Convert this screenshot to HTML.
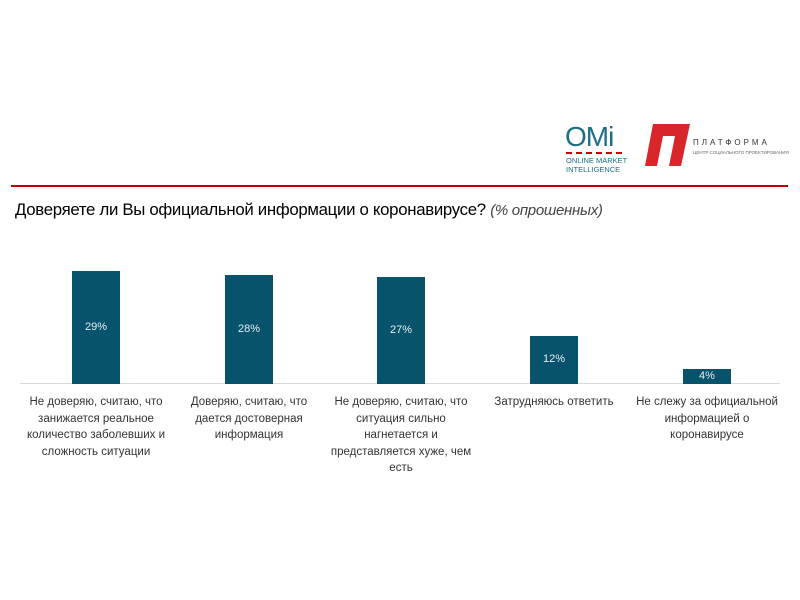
<!DOCTYPE html><html><head><meta charset="utf-8"><style>
body{margin:0;width:800px;height:600px;background:#fff;position:relative;font-family:"Liberation Sans","DejaVu Sans",sans-serif;overflow:hidden}
.a{position:absolute}
.bar{position:absolute;background:#06536b;width:48px;bottom:216px}
.bar span{position:absolute;left:0;right:0;text-align:center;color:#e8eef2;font-size:11px}
.lbl{position:absolute;top:394px;width:150px;text-align:center;font-size:11.5px;line-height:16.5px;color:#333}
</style></head><body>
<div class="a" style="left:11px;top:185px;width:777px;height:2px;background:#c00000"></div>
<div class="a" style="left:15px;top:200px;font-size:16.8px;color:#000;white-space:nowrap;letter-spacing:-0.3px">Доверяете ли Вы официальной информации о коронавирусе? <i style="color:#444;font-size:15px">(% опрошенных)</i></div>
<div class="a" style="left:565px;top:121px;font-size:28px;color:#1d6f86;letter-spacing:-1px">OMi</div>
<div class="a" style="left:566px;top:152px;width:56px;border-top:2px dashed #c00"></div>
<div class="a" style="left:566px;top:156px;font-size:7.5px;color:#1d6f86;line-height:9px">ONLINE MARKET<br>INTELLIGENCE</div>
<svg class="a" style="left:645px;top:124px" width="45" height="42"><polygon points="8,0 45,0 36,42 24,42 30,12 18,12 12,42 0,42" fill="#d8262a"/></svg>
<div class="a" style="left:693px;top:138px;font-size:8px;letter-spacing:3px;color:#333">ПЛАТФОРМА</div>
<div class="a" style="left:693px;top:150px;font-size:4.5px;color:#666">ЦЕНТР СОЦИАЛЬНОГО ПРОЕКТИРОВАНИЯ</div>
<div class="a" style="left:20px;top:383px;width:760px;height:1px;background:#d9d9d9"></div>
<div class="bar" style="left:72px;top:271px;height:113px"><span style="top:50px">29%</span></div>
<div class="bar" style="left:225px;top:275px;height:109px"><span style="top:48px">28%</span></div>
<div class="bar" style="left:377px;top:277px;height:107px"><span style="top:47px">27%</span></div>
<div class="bar" style="left:530px;top:336px;height:48px"><span style="top:17px">12%</span></div>
<div class="bar" style="left:683px;top:369px;height:15px"><span style="top:1px">4%</span></div>
<div class="lbl" style="left:21px">Не доверяю, считаю, что занижается реальное количество заболевших и сложность ситуации</div>
<div class="lbl" style="left:174px">Доверяю, считаю, что дается достоверная информация</div>
<div class="lbl" style="left:326px">Не доверяю, считаю, что ситуация сильно нагнетается и представляется хуже, чем есть</div>
<div class="lbl" style="left:479px">Затрудняюсь ответить</div>
<div class="lbl" style="left:632px">Не слежу за официальной информацией о коронавирусе</div>
</body></html>
